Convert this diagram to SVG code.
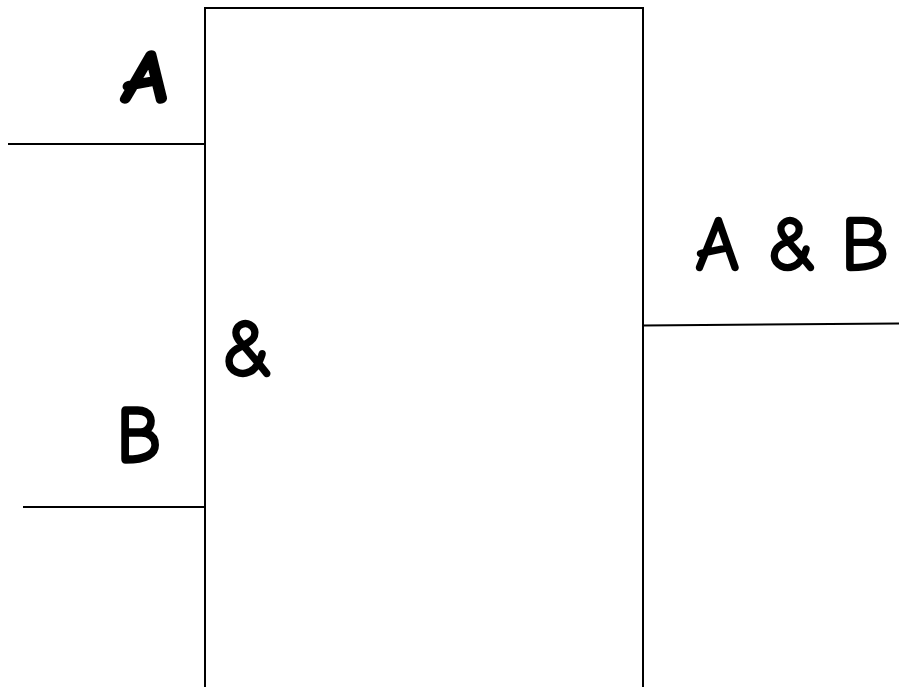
<svg xmlns="http://www.w3.org/2000/svg" width="899" height="687" viewBox="0 0 899 687">
<style>
.l{fill:none;stroke:#000;stroke-width:2}
.t{font-family:"Comic Neue","Liberation Sans",sans-serif;fill:#000;stroke:#000;stroke-width:2.6px;stroke-linejoin:round;font-size:80px}
.h{font-weight:bold;stroke-width:2.6px;font-size:74px}
</style>
<rect width="899" height="687" fill="#fff"/>
<g id="gate"><path class="l" d="M205 687V8H643V687"/><text class="t" x="222" y="376">&amp;</text></g>
<g id="connectors">
<path class="l" d="M8 144H205"/><path class="l" d="M23 507H205"/><path class="l" d="M643 325.500L899 323.500"/>
</g>
<g id="input-a"><text class="t h" transform="translate(120 101.500) skewX(-8) scale(1.12 1)" x="0" y="0">A</text></g>
<g id="input-b"><text class="t" style="stroke-width:3.6px" transform="translate(117 462) scale(.88 1)" x="0" y="0">B</text></g>
<g id="output"><text class="t" y="270" style="font-size:77px"><tspan x="695">A</tspan> <tspan x="767.500">&amp;</tspan> <tspan x="841">B</tspan></text></g>
</svg>
